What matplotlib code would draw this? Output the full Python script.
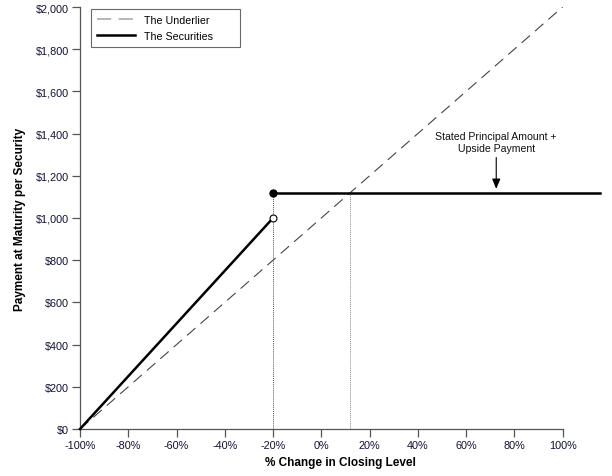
import matplotlib
matplotlib.use("Agg")
import matplotlib.pyplot as plt
import numpy as np

plt.rcParams['font.family'] = ['Liberation Sans', 'DejaVu Sans']

# Data
underlier_x = [-100, 100]
underlier_y = [0, 2000]
sec_down_x = [-100, -20]
sec_down_y = [0, 1000]
sec_up_x = [-20, 115.5]
sec_up_y = [1120, 1120]
jump_x = -20
open_y = 1000
filled_y = 1120
breakeven_x = 12
arrow_x = 72.5
x_ticks = [-100, -80, -60, -40, -20, 0, 20, 40, 60, 80, 100]
x_tick_labels = ['-100%', '-80%', '-60%', '-40%', '-20%', '0%', '20%', '40%', '60%', '80%', '100%']
y_ticks = [0, 200, 400, 600, 800, 1000, 1200, 1400, 1600, 1800, 2000]
y_tick_labels = ['$0', '$200', '$400', '$600', '$800', '$1,000', '$1,200', '$1,400', '$1,600', '$1,800', '$2,000']

fig = plt.figure(figsize=(6.12, 4.77), dpi=100)
ax = fig.add_axes([80/612, 1-430/477, 520/612, 422/477])
ax.set_xlim(-100, 115.5)
ax.set_ylim(0, 2000)

ax.plot(underlier_x, underlier_y, color='#444444', lw=0.8, dashes=(10, 6), label='The Underlier', zorder=2)
ax.plot(sec_down_x, sec_down_y, color='black', lw=1.8, label='The Securities' + ' ' * 7, zorder=3, clip_on=False)
ax.plot(sec_up_x, sec_up_y, color='black', lw=1.8, zorder=3, clip_on=False)

ax.plot([jump_x, jump_x], [0, filled_y], color='#555555', lw=0.7, ls=(0, (1, 1)), zorder=1)
ax.plot([breakeven_x, breakeven_x], [0, filled_y], color='#888888', lw=0.7, ls=(0, (1, 1)), zorder=1)

ax.plot([jump_x], [filled_y], 'o', color='black', ms=5, zorder=4)
ax.plot([jump_x], [open_y], 'o', mfc='white', mec='black', mew=0.8, ms=5, zorder=4)

ax.annotate('', xy=(arrow_x, 1125), xytext=(arrow_x, 1300),
            arrowprops=dict(arrowstyle='-|>,head_width=0.25,head_length=0.6', color='black', lw=0.8))
ax.text(arrow_x, 1310, 'Stated Principal Amount +\nUpside Payment', ha='center', va='bottom',
        fontsize=7.6, color='#111111', linespacing=1.15)

for s in ['top', 'right']:
    ax.spines[s].set_visible(False)
for s in ['left', 'bottom']:
    ax.spines[s].set_color('#555555')
    ax.spines[s].set_linewidth(0.9)
ax.spines['bottom'].set_bounds(-100, 100)

ax.set_xticks(x_ticks)
ax.set_xticklabels(x_tick_labels)
ax.set_yticks(y_ticks)
ax.set_yticklabels(y_tick_labels)
ax.tick_params(axis='both', labelsize=7.8, colors='#555555', labelcolor='#111133', length=5.5, width=0.9,
               direction='out', pad=2.5)

ax.set_xlabel('% Change in Closing Level', fontsize=8.5, fontweight='bold', labelpad=4)
ax.set_ylabel('Payment at Maturity per Security', fontsize=8.5, fontweight='bold', labelpad=7)

leg = ax.legend(loc='upper left', bbox_to_anchor=(11/520, 1-2/422), fontsize=7.7, frameon=True,
                fancybox=False, edgecolor='#444444', borderaxespad=0, handlelength=3.6,
                borderpad=0.55, labelspacing=0.55, handletextpad=0.8)
leg.get_frame().set_linewidth(0.8)
leg.get_lines()[0].set_color('#aaaaaa')
leg.get_lines()[0].set_linewidth(1.2)
leg.get_lines()[0].set_dashes((8.5, 4.5))

fig.savefig('out.png', dpi=100)
